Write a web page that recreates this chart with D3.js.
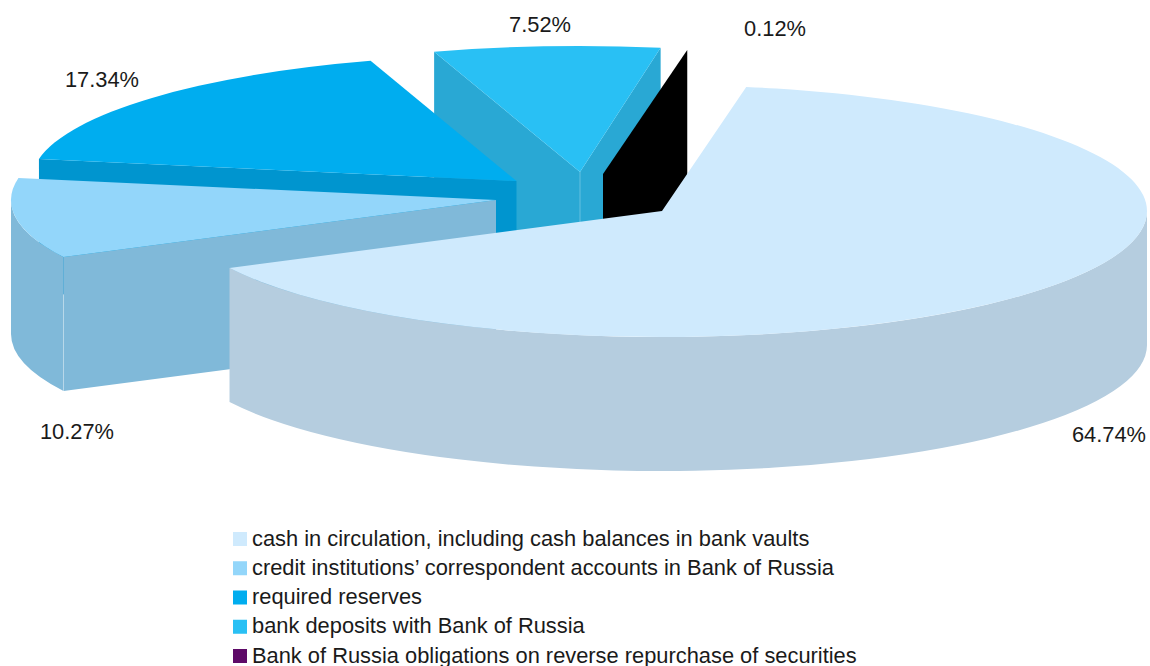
<!DOCTYPE html>
<html><head><meta charset="utf-8">
<script src="https://cdn.jsdelivr.net/npm/d3@7/dist/d3.min.js"></script>
<style>html,body{margin:0;padding:0;background:#fff}svg{display:block}text{font-family:"Liberation Sans",Arial,sans-serif;fill:#1a1a1a}</style>
</head><body><svg id="c" width="1150" height="666"></svg>
<script>
// data
const categories = [
  "cash in circulation, including cash balances in bank vaults",
  "credit institutions’ correspondent accounts in Bank of Russia",
  "required reserves",
  "bank deposits with Bank of Russia",
  "Bank of Russia obligations on reverse repurchase of securities"
];
const shares = [64.74, 10.27, 17.34, 7.52, 0.12];
const shareLabels = ["64.74%", "10.27%", "17.34%", "7.52%", "0.12%"];

// style and layout
const legendColors = ["#cfeafd", "#93d6fa", "#00adef", "#29c0f4", "#5e0a68"];
const topColors = ["#cfeafd", "#93d6fa", "#00adef", "#29c0f4", "none"];
const wallColors = ["#b5cddf", "#80b9d9", "#0095cf", "#29a8d4", "#000000"];
const apexes = [[662, 211], [496, 200], [516.5, 181], [580, 172], [603, 174]];
const labelPos = [[1109, 435], [77, 432], [102, 80], [540, 25], [775, 29]];
const drawOrder = [3, 4, 2, 1, 0];
const rx = 485, ry = 126, depth = 134;
const fontSize = 21.85;
const firstAngle = 10 * Math.PI / 180;

const svg = d3.select("#c");
const pie = d3.pie().sort(null).value(d => d)
  .startAngle(firstAngle).endAngle(firstAngle + 2 * Math.PI);
const arcs = pie(shares);
const arcGen = d3.arc().innerRadius(0).outerRadius(rx);
const pt = (a, t) => [a[0] + rx * Math.sin(t), a[1] - ry * Math.cos(t)];
const TAU = 2 * Math.PI;
const norm = t => ((t % TAU) + TAU) % TAU;

function radialWall(a, t) {
  const p = pt(a, t);
  return `M${a[0]},${a[1]}L${p[0]},${p[1]}L${p[0]},${p[1] + depth}L${a[0]},${a[1] + depth}Z`;
}
function outerWall(a, t0, t1) {
  // front half of the ellipse only: 90deg to 270deg
  const lo = Math.max(norm(t0), Math.PI / 2), hi = Math.min(norm(t0) + (t1 - t0), 3 * Math.PI / 2);
  if (hi <= lo) return null;
  const p0 = pt(a, lo), p1 = pt(a, hi);
  return `M${p0[0]},${p0[1]}A${rx},${ry} 0 0 1 ${p1[0]},${p1[1]}L${p1[0]},${p1[1] + depth}A${rx},${ry} 0 0 0 ${p0[0]},${p0[1] + depth}Z`;
}

drawOrder.forEach(i => {
  const d = arcs[i], a = apexes[i];
  const g = svg.append("g");
  const wall = p => g.append("path").attr("d", p).attr("fill", wallColors[i]);
  if (Math.sin(d.startAngle) < 0) wall(radialWall(a, d.startAngle));
  if (Math.sin(d.endAngle) > 0) wall(radialWall(a, d.endAngle));
  const ow = outerWall(a, d.startAngle, d.endAngle);
  if (ow) wall(ow);
  g.append("path")
    .attr("transform", `translate(${a[0]},${a[1]}) scale(1,${ry / rx})`)
    .attr("d", arcGen(d)).attr("fill", topColors[i]);
  // light seam at the visible vertical corner
  if (i === 1 || i === 3) {
    const sx = i === 1 ? pt(a, d.startAngle)[0] : a[0];
    const sy = i === 1 ? pt(a, d.startAngle)[1] : a[1];
    g.append("line").attr("x1", sx).attr("x2", sx)
      .attr("y1", i === 1 ? sy + 38 : sy).attr("y2", sy + depth)
      .attr("stroke", "#ffffff").attr("stroke-opacity", 0.35).attr("stroke-width", 0.8);
  }
});

svg.append("g").selectAll("text").data(shareLabels).join("text")
  .attr("x", (d, i) => labelPos[i][0]).attr("y", (d, i) => labelPos[i][1])
  .attr("dy", "0.31em").attr("text-anchor", "middle").attr("font-size", fontSize).text(d => d);

const legendY = d3.scalePoint().domain(categories).range([539, 656]);
const lg = svg.append("g").selectAll("g").data(categories).join("g")
  .attr("transform", d => `translate(233,${legendY(d)})`);
lg.append("rect").attr("x", 0).attr("y", -7).attr("width", 14).attr("height", 14)
  .attr("fill", (d, i) => legendColors[i]);
lg.append("text").attr("x", 19).attr("dy", "0.3em").attr("font-size", fontSize).text(d => d);
</script></body></html>
